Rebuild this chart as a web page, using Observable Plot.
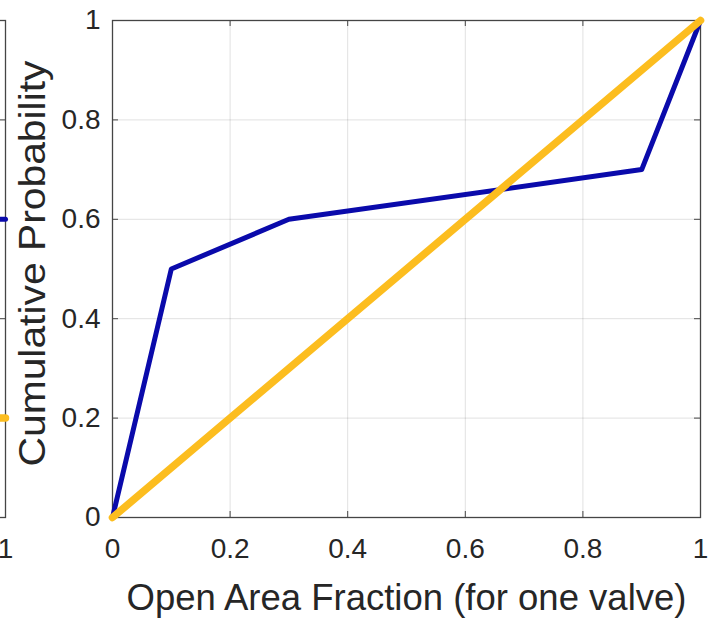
<!DOCTYPE html>
<html><head><meta charset="utf-8">
<script src="https://cdn.jsdelivr.net/npm/d3@7"></script>
<script src="https://cdn.jsdelivr.net/npm/@observablehq/plot@0.6"></script>
<style>
body{margin:0;background:#fff;}
#wrap{position:relative;width:712px;height:621px;overflow:hidden;background:#fff;}
#wrap svg{position:absolute;top:0;}
</style></head><body><div id="wrap"></div>
<script>
// Main panel data
const openFraction = [0, 0.1, 0.3, 0.9, 1];
const cumProbBlue = [0, 0.5, 0.6, 0.7, 1];
const uniformX = [0, 1];
const uniformY = [0, 1];
const xTicks = [0, 0.2, 0.4, 0.6, 0.8, 1];
const yTicks = [0, 0.2, 0.4, 0.6, 0.8, 1];
const xLabel = "Open Area Fraction (for one valve)";
const yLabel = "Cumulative Probability";
// Neighbouring panel, cropped at the left edge: only its line ends and last tick label are visible
const leftPanelX = [0.9, 1];
const leftBlueY = [0.6, 0.6];
const leftYellowY = [0.2, 0.2];
const leftXTickLabels = [1];

const W = 712, H = 621, mL = 112, mR = 12, mT = 20, mB = 104;
const BLUE = "#0a0aab", YELLOW = "#fcbd1f", INK = "#262626", AXIS = "#454545";
const tx = 6 / (W - mL - mR), ty = 6 / (H - mT - mB);

function rows(xs, ys) { return xs.map((x, i) => ({x, y: ys[i]})); }

function panel(blueRows, yellowRows, main) {
  const marks = [
    Plot.gridX(xTicks, {stroke: "#000", strokeOpacity: 0.12}),
    Plot.gridY(yTicks, {stroke: "#000", strokeOpacity: 0.12}),
    Plot.axisX(main ? xTicks : leftXTickLabels, {tickSize: 0, tickPadding: 21, fontSize: 28, fill: INK, label: null, tickFormat: d => String(d)}),
    Plot.ruleX(xTicks, {x: d => d, y1: 0, y2: ty, stroke: AXIS}),
    Plot.ruleX(xTicks, {x: d => d, y1: 1 - ty, y2: 1, stroke: AXIS}),
    Plot.ruleY(yTicks, {y: d => d, x1: 0, x2: tx, stroke: AXIS}),
    Plot.ruleY(yTicks, {y: d => d, x1: 1 - tx, x2: 1, stroke: AXIS}),
    Plot.frame({stroke: AXIS, strokeWidth: 1.3}),
    Plot.line(blueRows, {x: "x", y: "y", stroke: BLUE, strokeWidth: 5}),
    Plot.line(yellowRows, {x: "x", y: "y", stroke: YELLOW, strokeWidth: 7.5})
  ];
  if (main) {
    marks.push(
      Plot.axisY(yTicks, {tickSize: 0, tickPadding: 12, fontSize: 28, fill: INK, label: null, tickFormat: d => String(d)}),
      Plot.text([xLabel], {text: d => d, frameAnchor: "bottom", dy: 80.5, lineAnchor: "middle", fontSize: 36.5, fill: INK}),
      Plot.text([yLabel], {text: d => d, frameAnchor: "left", dx: -79.5, dy: 197.5, rotate: -90, textAnchor: "start", lineAnchor: "middle", fontSize: 36, fill: INK})
    );
  } else {
    marks.push(Plot.axisY({ticks: [], label: null}));
  }
  return Plot.plot({
    width: W, height: H,
    marginLeft: mL, marginRight: mR, marginTop: mT, marginBottom: mB,
    x: {domain: [0, 1]},
    y: {domain: [0, 1]},
    style: {fontFamily: "'Liberation Sans', Arial, sans-serif", background: "transparent", overflow: "visible"},
    marks
  });
}

const wrap = document.getElementById("wrap");
const left = panel(rows(leftPanelX, leftBlueY), rows(leftPanelX, leftYellowY), false);
left.style.left = (5 - (W - mR)) + "px";
wrap.appendChild(left);
const main = panel(rows(openFraction, cumProbBlue), rows(uniformX, uniformY), true);
main.style.left = "0px";
wrap.appendChild(main);
d3.select(main).selectAll("text").filter(function() { return this.textContent === yLabel; })
  .attr("textLength", 406).attr("lengthAdjust", "spacingAndGlyphs");
</script></body></html>
